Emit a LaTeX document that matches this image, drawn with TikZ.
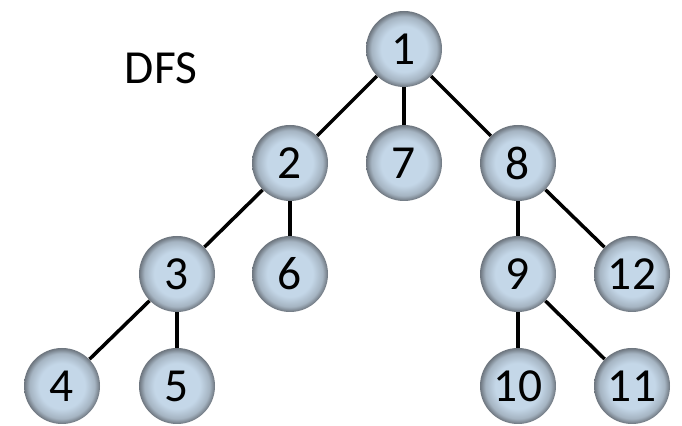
\documentclass[tikz,border=0pt]{standalone}
\usepackage{fontspec}
\setmainfont{Carlito}
\usetikzlibrary{backgrounds}

\definecolor{ballin}{HTML}{C4D7E8}
\definecolor{ballmid}{HTML}{A5B4C2}
\definecolor{ballout}{HTML}{6C747D}
\pgfdeclareradialshading{treeball}{\pgfpoint{0bp}{0bp}}{color(0bp)=(ballin); color(15bp)=(ballin); color(21.5bp)=(ballmid); color(25bp)=(ballout); color(50bp)=(ballout)}

\begin{document}
\begin{tikzpicture}[
  vert/.style={circle, shading=treeball, minimum size=1.52cm, inner sep=0pt, font=\fontsize{27}{30}\selectfont},
  link/.style={line width=2pt}
]
\useasboundingbox (0,0) rectangle (13.64,8.52);
\node[font=\fontsize{27}{30}\selectfont] (title) at (3.22,7.16) {DFS};

\node[vert] (v1) at (8.08,7.54) {1};
\node[vert] (v2) at (5.80,5.26) {2};
\node[vert] (v7) at (8.08,5.26) {7};
\node[vert] (v8) at (10.36,5.26) {8};
\node[vert] (v3) at (3.54,3.04) {3};
\node[vert] (v6) at (5.80,3.04) {6};
\node[vert] (v9) at (10.36,3.04) {9};
\node[vert] (v12) at (12.64,3.04) {12};
\node[vert] (v4) at (1.24,0.80) {4};
\node[vert] (v5) at (3.54,0.80) {5};
\node[vert] (v10) at (10.36,0.80) {10};
\node[vert] (v11) at (12.64,0.80) {11};

% edges go under the balls
\begin{scope}[on background layer]
\draw[link] (v1) -- (v2);
\draw[link] (v1) -- (v7);
\draw[link] (v1) -- (v8);
\draw[link] (v2) -- (v3);
\draw[link] (v2) -- (v6);
\draw[link] (v3) -- (v4);
\draw[link] (v3) -- (v5);
\draw[link] (v8) -- (v9);
\draw[link] (v8) -- (v12);
\draw[link] (v9) -- (v10);
\draw[link] (v9) -- (v11);
\end{scope}
\end{tikzpicture}
\end{document}
